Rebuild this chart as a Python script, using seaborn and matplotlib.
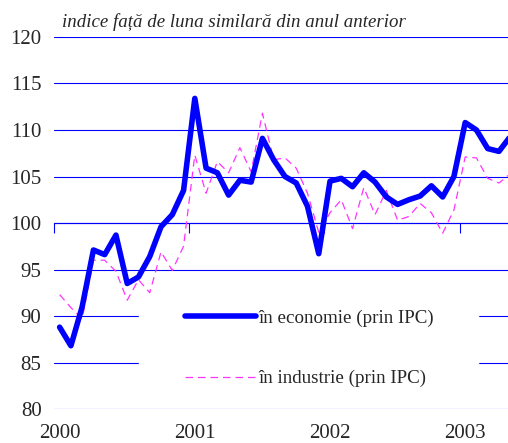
import pandas as pd
import matplotlib
matplotlib.use('Agg')
import matplotlib.pyplot as plt
from matplotlib.lines import Line2D
from matplotlib.legend_handler import HandlerLine2D
import seaborn as sns

# monthly index, Jan 2000 .. May 2003
months = list(range(41))
economie = [88.8, 86.8, 91.0, 97.1, 96.6, 98.7, 93.5, 94.2, 96.4, 99.6, 100.9, 103.5,
            113.4, 105.9, 105.4, 103.0, 104.6, 104.4, 109.1, 106.8, 105.0, 104.3, 101.8, 96.7,
            104.5, 104.8, 103.9, 105.4, 104.4, 102.8, 102.0, 102.5, 102.9, 104.0, 102.8, 105.0,
            110.8, 110.0, 108.0, 107.7, 109.3]
industrie = [92.3, 90.9, 89.7, 96.0, 96.0, 94.8, 91.7, 93.9, 92.5, 96.9, 94.9, 97.5,
             107.3, 103.2, 106.6, 105.4, 108.1, 105.5, 111.8, 106.8, 107.0, 105.9, 103.2, 99.0,
             101.1, 102.5, 99.4, 103.8, 100.9, 103.5, 100.3, 100.7, 102.1, 101.1, 98.9, 101.4,
             107.1, 107.0, 104.8, 104.3, 105.3]
year_labels = ['2000', '2001', '2002', '2003']
year_pos = [0, 12, 24, 36]
year_bounds = [-0.5, 11.5, 23.5, 35.5]

df = pd.DataFrame({'luna': months, 'economie': economie, 'industrie': industrie})

sns.set_style('white')
plt.rcParams['font.family'] = ['Liberation Serif', 'DejaVu Serif']

fig = plt.figure(figsize=(5.08, 4.43), dpi=100)
ax = fig.add_axes([0.1063, 0.0767, 0.8937, 0.8398])

grid_blue = '#0000FF'
sns.lineplot(data=df, x='luna', y='industrie', ax=ax, color='#FF33FF', lw=0.9,
             linestyle=(0, (6, 4)), label='în industrie (prin IPC)', zorder=3)
sns.lineplot(data=df, x='luna', y='economie', ax=ax, color='#0000FF', lw=4.0,
             solid_joinstyle='round', solid_capstyle='round',
             label='în economie (prin IPC)', zorder=4)

ax.set_xlim(-0.5, 39.8)
ax.set_ylim(80, 120)
ax.set_yticks(range(80, 121, 5))
ax.yaxis.grid(True, color=grid_blue, lw=0.8)
ax.set_axisbelow(True)
for s in ['top', 'right', 'left']:
    ax.spines[s].set_visible(False)
ax.spines['bottom'].set_position(('data', 100))
ax.spines['bottom'].set_color(grid_blue)
ax.spines['bottom'].set_linewidth(0.8)
ax.tick_params(axis='y', length=0, pad=9, labelsize=15)

# tick marks on the 100 line, year labels at the bottom
ax.set_xticks(year_bounds)
ax.set_xticklabels([''] * len(year_bounds))
ax.tick_params(axis='x', which='major', bottom=True, direction='out', length=7,
               width=0.8, color=grid_blue)
ax.set_xticks(year_pos, minor=True)
ax.set_xticklabels(year_labels, minor=True)
ax.tick_params(axis='x', which='minor', bottom=True, length=0, pad=145, labelsize=15)
ax.set_xlabel('')
ax.set_ylabel('')

handles, labels = ax.get_legend_handles_labels()
leg = ax.legend(handles[::-1], labels[::-1], loc='upper left',
                bbox_to_anchor=(0.187, 0.0, 0.747, 0.3145), mode='expand',
                frameon=True, fancybox=False,
                facecolor='white', edgecolor='white', framealpha=1,
                fontsize=13.7, handlelength=5.25, handletextpad=0.12,
                labelspacing=2.29, borderpad=0.9, borderaxespad=0,
                handler_map={Line2D: HandlerLine2D(xpad=1.5)})
leg.set_zorder(2)

fig.text(62 / 508, 1 - 27 / 443, 'indice față de luna similară din anul anterior',
         fontsize=13.6, style='italic', va='baseline', ha='left')

fig.savefig('out.png', dpi=100)
